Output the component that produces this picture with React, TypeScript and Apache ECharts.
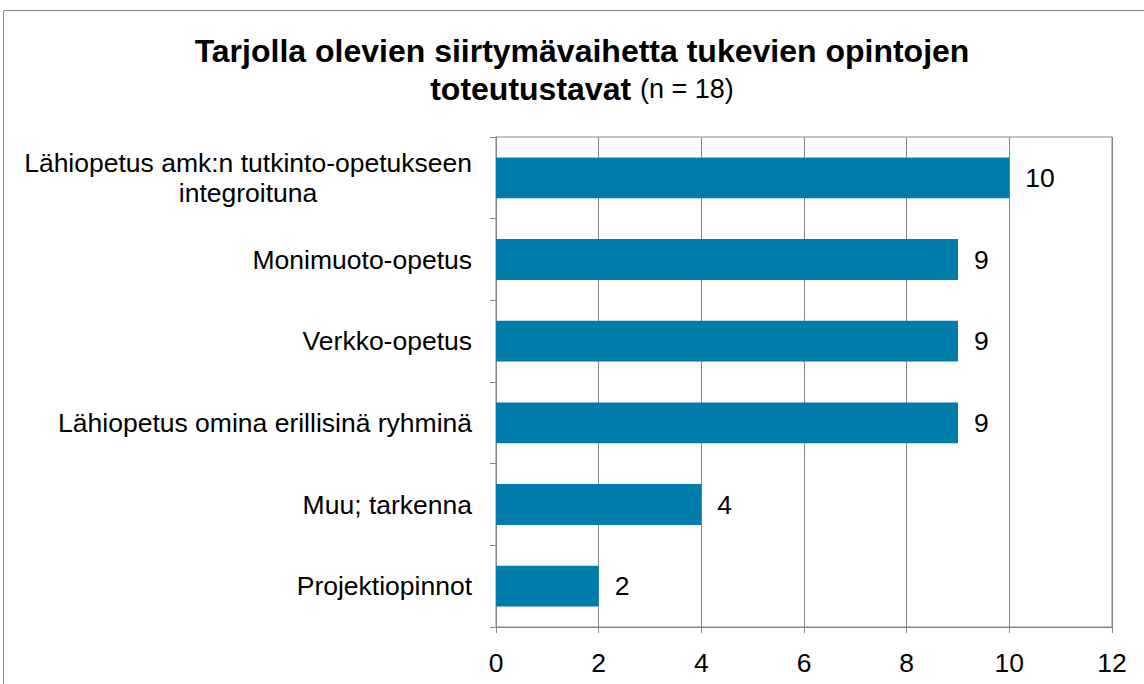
import React, { useEffect, useRef } from "react";
import * as echarts from "echarts";

const categories: string[] = [
  "Lähiopetus amk:n tutkinto-opetukseen\nintegroituna",
  "Monimuoto-opetus",
  "Verkko-opetus",
  "Lähiopetus omina erillisinä ryhminä",
  "Muu; tarkenna",
  "Projektiopinnot",
];
const values: number[] = [10, 9, 9, 9, 4, 2];
const titleMain = "Tarjolla olevien siirtymävaihetta tukevien opintojen";
const titleBold2 = "toteutustavat";
const titleNote = "(n = 18)";
const xMin = 0;
const xMax = 12;
const xStep = 2;

const FONT = "'Liberation Sans', Arial, Helvetica, sans-serif";
const GRID = "#868686";
const BAR = "#007CAB";
const LABEL_SIZE = 26.5;

export default function App() {
  const ref = useRef<HTMLDivElement>(null);
  useEffect(() => {
    if (!ref.current) return;
    const chart = echarts.init(ref.current, undefined, { renderer: "svg" });
    chart.setOption({
      animation: false,
      backgroundColor: "#ffffff",
      textStyle: { fontFamily: FONT },
      graphic: [
        {
          type: "rect",
          shape: { x: 3.5, y: 10.5, width: 1300, height: 900 },
          style: { fill: "none", stroke: "#8c8c8c", lineWidth: 1 },
          silent: true,
        },
        {
          type: "text",
          x: 582,
          y: 32,
          style: {
            text: `{b|${titleMain}}\n{b|${titleBold2} }{n|${titleNote}}`,
            align: "center",
            verticalAlign: "top",
            fill: "#000",
            rich: {
              b: { fontFamily: FONT, fontWeight: "bold", fontSize: 32, lineHeight: 38, fill: "#000", align: "center" },
              n: { fontFamily: FONT, fontWeight: "normal", fontSize: 27, lineHeight: 38, fill: "#000", align: "center" },
            },
          },
        },
      ],
      grid: {
        left: 496,
        right: 32,
        top: 137,
        bottom: 57,
        containLabel: false,
        show: true,
        borderColor: GRID,
        borderWidth: 1,
      },
      xAxis: {
        type: "value",
        min: xMin,
        max: xMax,
        interval: xStep,
        axisLine: { show: true, lineStyle: { color: GRID, width: 1 } },
        axisTick: { show: true, length: 6, lineStyle: { color: GRID } },
        splitLine: { show: true, lineStyle: { color: GRID, width: 1 } },
        axisLabel: { fontSize: LABEL_SIZE, color: "#000", fontFamily: FONT, margin: 22 },
      },
      yAxis: {
        type: "category",
        inverse: true,
        data: categories,
        axisLine: { show: true, lineStyle: { color: GRID, width: 1 } },
        axisTick: { show: true, length: 6, lineStyle: { color: GRID } },
        splitLine: { show: false },
        axisLabel: {
          margin: 24,
          color: "#000",
          fontSize: LABEL_SIZE,
          fontFamily: FONT,
          formatter: (v: string) =>
            v
              .split("\n")
              .map((s) => `{c|${s}}`)
              .join("\n"),
          rich: {
            c: { fontSize: LABEL_SIZE, lineHeight: 30, color: "#000", fontFamily: FONT, align: "center" },
          },
        },
      },
      series: [
        {
          type: "bar",
          data: values,
          barCategoryGap: "50%",
          itemStyle: { color: BAR },
          label: {
            show: true,
            position: "right",
            distance: 16,
            color: "#000",
            fontSize: LABEL_SIZE,
            fontFamily: FONT,
          },
        },
      ],
    });
    return () => chart.dispose();
  }, []);
  return (
    <div
      ref={ref}
      style={{ position: "absolute", left: 0, top: 0, width: 1144, height: 684, background: "#fff" }}
    />
  );
}
